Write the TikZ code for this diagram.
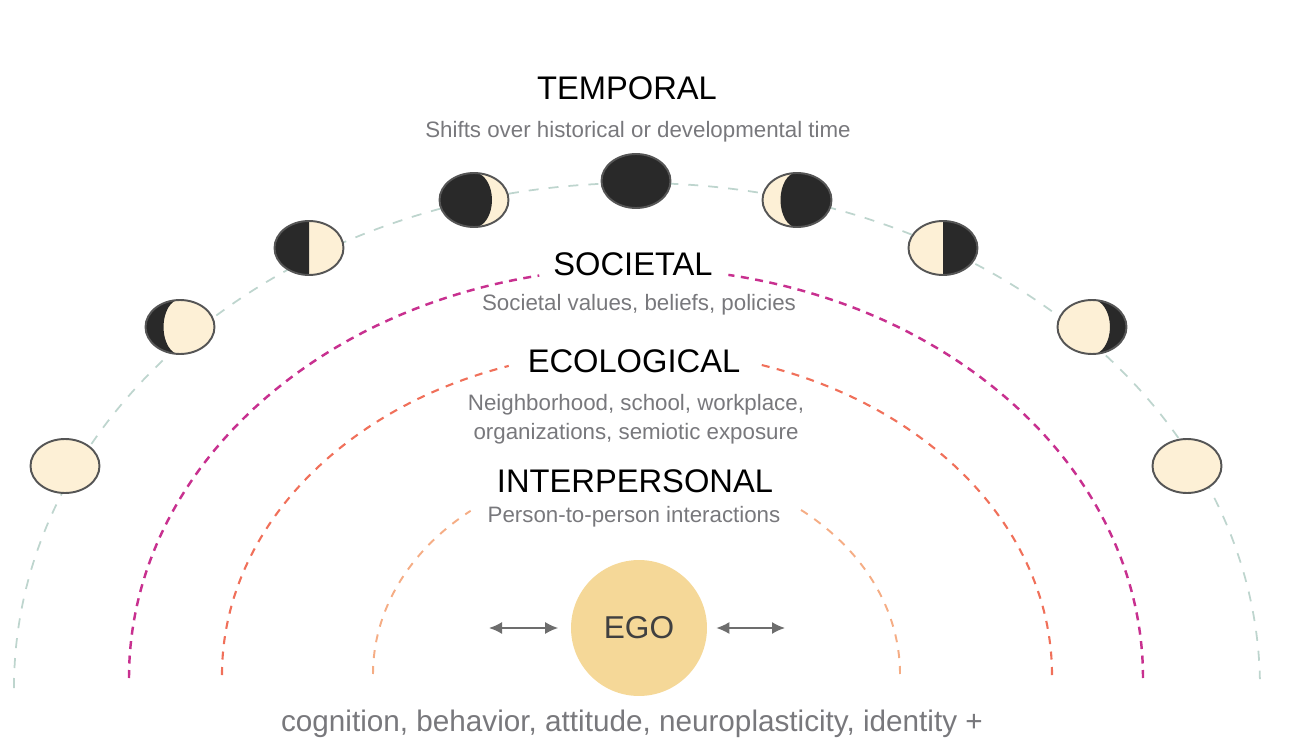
\documentclass[tikz,border=0pt]{standalone}
\usepackage{fontspec}
\setmainfont{Liberation Sans}
\usetikzlibrary{arrows.meta, positioning, shapes.geometric}
\definecolor{moonCream}{RGB}{253,240,214}
\definecolor{moonDark}{RGB}{41,41,41}
\definecolor{moonEdge}{RGB}{85,85,85}
\definecolor{egoGold}{RGB}{245,216,152}
\definecolor{tempLine}{RGB}{190,213,206}
\definecolor{socLine}{RGB}{200,48,143}
\definecolor{ecoLine}{RGB}{240,112,90}
\definecolor{interLine}{RGB}{245,173,133}
\definecolor{subGrey}{RGB}{120,120,124}
\definecolor{arrGrey}{RGB}{109,109,109}

\begin{document}
\begin{tikzpicture}[
    x=0.02cm, y=-0.02cm,
    moon/.style={ellipse, draw=moonEdge, fill=moonCream, line width=1.1pt,
                inner sep=0pt, minimum width=1.38cm, minimum height=1.08cm},
    phase/.style n args={3}{path picture={
        \begin{scope}[shift={(path picture bounding box.center)}]
        \fill[moonDark] (0,27.5) arc[start angle=90, end angle=#2,
            x radius=#3, y radius=27.5] -- (#1*40,-27.5) -- (#1*40,27.5) -- cycle;
        \end{scope}}},
    level/.style={font=\fontsize{18.6}{22}\selectfont, text=black, inner sep=0pt},
    detail/.style={font=\fontsize{12.7}{16.4}\selectfont, text=subGrey, align=center, inner sep=0pt},
    ring/.style n args={3}{line width=#1, dash pattern=on #2 off #3},
    biarr/.style={{Latex[length=0.26cm,width=0.24cm]}-{Latex[length=0.26cm,width=0.24cm]},
                line width=0.9pt, draw=arrGrey}
]
\useasboundingbox (0,0) rectangle (1296,750);

% Temporal ring, runs behind the moons
\draw[ring={1pt}{0.2cm}{0.2cm}, draw=tempLine] (14,688)
    arc[start angle=180, end angle=359, x radius=623, y radius=505];

% Societal ring, open at the top for its title
\draw[ring={1.4pt}{0.16cm}{0.13cm}, draw=socLine] (129,678)
    arc[start angle=180, end angle=259, x radius=507, y radius=410];
\draw[ring={1.4pt}{0.16cm}{0.13cm}, draw=socLine] (1143,678)
    arc[start angle=0, end angle=-79.5, x radius=507, y radius=410];

% Ecological ring
\draw[ring={1.2pt}{0.16cm}{0.15cm}, draw=ecoLine] (222,675)
    arc[start angle=180, end angle=252, x radius=415, y radius=325];
\draw[ring={1.2pt}{0.16cm}{0.15cm}, draw=ecoLine] (1052,675)
    arc[start angle=0, end angle=-73, x radius=415, y radius=325];

% Interpersonal ring
\draw[ring={1.1pt}{0.16cm}{0.16cm}, draw=interLine] (373,674)
    arc[start angle=180, end angle=231, x radius=263.5, y radius=210];
\draw[ring={1.1pt}{0.16cm}{0.16cm}, draw=interLine] (900,674)
    arc[start angle=0, end angle=-51.5, x radius=263.5, y radius=210];

% Moon phases, left to right
\node[moon] (m1) at (65,466) {};
\node[moon, phase={-1}{270}{16.5}] (m2) at (180,327) {};
\node[moon, phase={-1}{-90}{0.01}] (m3) at (309,248) {};
\node[moon, phase={-1}{-90}{18}] (m4) at (474,200) {};
\node[moon, fill=moonDark] (m5) at (636,181) {};
\node[moon, phase={1}{270}{16.5}] (m6) at (797,200) {};
\node[moon, phase={1}{-90}{0.01}] (m7) at (943,248) {};
\node[moon, phase={1}{-90}{18}] (m8) at (1092,327) {};
\node[moon] (m9) at (1187,466) {};

% Titles and their descriptions
\node[level] (temporal) at (627,88) {TEMPORAL};
\node[detail] (temporalSub) at (638,132) {Shifts over historical or developmental time};
\node[level] (societal) at (633,264) {SOCIETAL};
\node[detail] (societalSub) at (639,305) {Societal values, beliefs, policies};
\node[level] (ecological) at (634,361) {ECOLOGICAL};
\node[detail] (ecologicalSub) at (636,419) {Neighborhood, school, workplace,\\organizations, semiotic exposure};
\node[level] (interpersonal) at (635,481) {INTERPERSONAL};
\node[detail] (interpersonalSub) at (634,517) {Person-to-person interactions};

% Ego and the two-way arrows beside it
\node[circle, fill=egoGold, minimum size=2.72cm, inner sep=0pt, text=black!75,
      font=\fontsize{18}{22}\selectfont] (ego) at (639,628) {EGO};
\coordinate (arrowL) at (489,628);
\coordinate (arrowR) at (785,628);
\draw[biarr, shorten >=0.25cm] (arrowL) -- (ego);
\draw[biarr, shorten <=0.18cm] (ego) -- (arrowR);

\node[font=\fontsize{16.9}{20}\selectfont, text=subGrey, inner sep=0pt] (outcomes) at (632,724)
    {cognition, behavior, attitude, neuroplasticity, identity +};
\end{tikzpicture}
\end{document}
